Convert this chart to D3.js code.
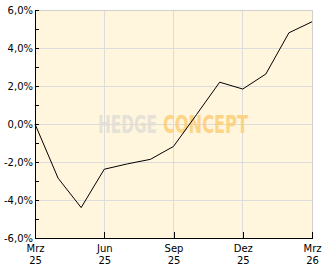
<!DOCTYPE html>
<html>
<head>
<meta charset="utf-8">
<script src="https://cdn.jsdelivr.net/npm/d3@7"></script>
<style>
  body { margin: 0; background: #fff; }
  svg { display: block; }
  .tick text { font-family: "DejaVu Sans", sans-serif; font-size: 10px; fill: #000; }
</style>
</head>
<body>
<div id="vis"></div>
<script>
// Performance (%) per month, Mrz 25 .. Mrz 26
const months = ["Mrz 25", "Apr 25", "Mai 25", "Jun 25", "Jul 25", "Aug 25", "Sep 25",
                "Okt 25", "Nov 25", "Dez 25", "Jan 26", "Feb 26", "Mrz 26"];
const perf = [0.0, -2.85, -4.4, -2.38, -2.1, -1.86, -1.18, 0.5, 2.2, 1.84, 2.63, 4.8, 5.38];
const xTickIdx = [0, 3, 6, 9, 12];
const xTickTop = ["Mrz", "Jun", "Sep", "Dez", "Mrz"];
const xTickBottom = ["25", "25", "25", "25", "26"];
const yTicks = [-6, -5, -4, -3, -2, -1, 0, 1, 2, 3, 4, 5, 6];
const yGrid = [-4, -2, 0, 2, 4, 6];

const FRAME_WIDTH = 332;
const FRAME_HEIGHT = 269;
const PLOT = {left: 35, right: 312, top: 10, bottom: 238};

const svg = d3.select("#vis")
  .append("svg")
    .attr("width", FRAME_WIDTH)
    .attr("height", FRAME_HEIGHT);

const X_SCALE = d3.scaleLinear()
  .domain([0, months.length - 1])
  .range([PLOT.left, PLOT.right]);

const Y_SCALE = d3.scaleLinear()
  .domain([-6, 6])
  .range([PLOT.bottom, PLOT.top]);

// background
svg.append("rect")
  .attr("x", PLOT.left).attr("y", PLOT.top)
  .attr("width", PLOT.right - PLOT.left).attr("height", PLOT.bottom - PLOT.top)
  .attr("fill", "#fff6dd");

// grid
const grid = svg.append("g").attr("shape-rendering", "crispEdges");
grid.selectAll(".hg").data(yGrid).enter().append("line")
  .attr("x1", PLOT.left).attr("x2", PLOT.right)
  .attr("y1", d => Y_SCALE(d)).attr("y2", d => Y_SCALE(d))
  .attr("stroke", "#dcdcdc");
grid.selectAll(".vg").data(xTickIdx.slice(1)).enter().append("line")
  .attr("x1", d => X_SCALE(d)).attr("x2", d => X_SCALE(d))
  .attr("y1", PLOT.top).attr("y2", PLOT.bottom)
  .attr("stroke", "#dcdcdc");

// watermark, two words side by side, squeezed to fit
function watermark(word, x, w, color) {
  const t = svg.append("text")
    .attr("font-family", "'Liberation Sans Narrow', 'DejaVu Sans Condensed', sans-serif")
    .attr("font-weight", "bold").attr("font-size", 25)
    .attr("fill", color).attr("opacity", 0.85)
    .text(word);
  const sx = w / t.node().getComputedTextLength();
  t.attr("transform", "translate(" + x + ",133) scale(" + sx + ",1)");
}
watermark("HEDGE", 98, 59, "#e2ded6");
watermark("CONCEPT", 163, 85, "#fccf78");

// line
svg.append("path")
  .datum(perf)
  .attr("fill", "none")
  .attr("stroke", "#000")
  .attr("stroke-width", 1)
  .attr("d", d3.line().x((d, i) => X_SCALE(i)).y(d => Y_SCALE(d)));

// top/right border
svg.append("path")
  .attr("d", "M" + PLOT.left + "," + (PLOT.top + 0.5) + "H" + (PLOT.right + 0.5) + "V" + PLOT.bottom)
  .attr("fill", "none").attr("stroke", "#cfcfcf")
  .attr("shape-rendering", "crispEdges");

// y axis
const yAxis = svg.append("g")
  .attr("transform", "translate(" + PLOT.left + ",0)")
  .call(d3.axisLeft(Y_SCALE)
    .tickValues(yTicks)
    .tickSizeInner(-4).tickSizeOuter(0)
    .tickPadding(2)
    .tickFormat(d => d % 2 === 0 ? d3.format(".1f")(d).replace(".", ",").replace("−", "-") + "%" : ""));
yAxis.attr("shape-rendering", "crispEdges");
yAxis.select(".domain").attr("stroke", "#000");
yAxis.selectAll(".tick line").attr("stroke", "#000");

// x axis
const xAxis = svg.append("g")
  .attr("transform", "translate(0," + PLOT.bottom + ")")
  .call(d3.axisBottom(X_SCALE)
    .tickValues(xTickIdx)
    .tickSizeInner(-6).tickSizeOuter(0)
    .tickFormat(""));
xAxis.attr("shape-rendering", "crispEdges");
xAxis.select(".domain").attr("stroke", "#000");
xAxis.selectAll(".tick line").attr("stroke", "#000");
xAxis.selectAll(".tick text")
  .attr("y", 0).attr("dy", null)
  .each(function(d, i) {
    const t = d3.select(this);
    t.append("tspan").attr("x", 0).attr("y", 14).text(xTickTop[i]);
    t.append("tspan").attr("x", 0).attr("y", 26).text(xTickBottom[i]);
  });
</script>
</body>
</html>
